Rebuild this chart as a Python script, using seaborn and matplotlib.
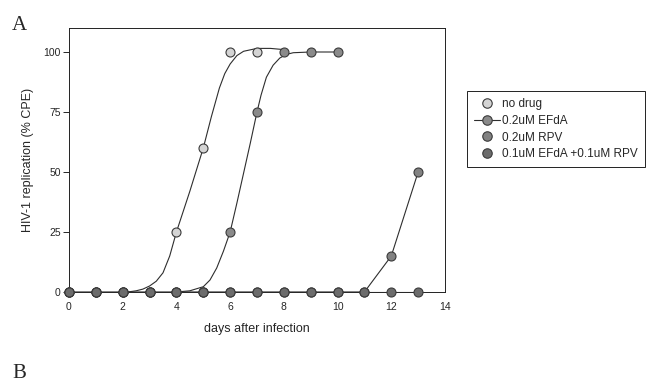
import numpy as np
import pandas as pd
import matplotlib
matplotlib.use("Agg")
import matplotlib.pyplot as plt
import seaborn as sns
from matplotlib.lines import Line2D

# ---- data ----
no_drug_days = [0, 1, 2, 3, 4, 5, 6, 7]
no_drug_cpe = [0, 0, 0, 0, 25, 60, 100, 100]
efda_days = [0, 1, 2, 3, 4, 5, 6, 7, 8, 9, 10]
efda_cpe = [0, 0, 0, 0, 0, 0, 25, 75, 100, 100, 100]
rpv_days = list(range(0, 14))
rpv_cpe = [0, 0, 0, 0, 0, 0, 0, 0, 0, 0, 0, 0, 15, 50]
combo_days = list(range(0, 14))
combo_cpe = [0] * 14

# fitted curves
fit_no_drug_x = [2.0, 2.25, 2.5, 2.75, 3.0, 3.25, 3.5, 3.75, 4.0, 4.5, 5.0,
                 5.3, 5.6, 5.8, 6.0, 6.25, 6.5, 7.0, 7.5, 8.0]
fit_no_drug_y = [0, 0.1, 0.5, 1.2, 2.5, 4.5, 8, 15, 25, 42, 60,
                 73, 85, 91, 95, 98.5, 100.3, 101.5, 101.5, 101]
fit_efda_x = [4.0, 4.5, 5.0, 5.25, 5.5, 5.75, 6.0, 6.25, 6.5, 6.75, 7.0,
              7.15, 7.35, 7.6, 7.85, 8.1, 8.35, 9.0, 10.0]
fit_efda_y = [0, 0.5, 2.2, 5, 10, 17, 25, 37, 49.5, 62, 75,
              82, 89.5, 94.5, 97.5, 99, 99.7, 100, 100]

labels = ["no drug", "0.2uM EFdA", "0.2uM RPV", "0.1uM EFdA +0.1uM RPV"]
colors = ["#d4d4d4", "#8a8a8a", "#828282", "#6c6c6c"]
edge = "#3a3a3a"

sns.set_style("ticks")
plt.rcParams['font.family'] = ['Liberation Sans', 'DejaVu Sans']

fig = plt.figure(figsize=(6.48, 3.87), dpi=100)
ax = fig.add_axes([69 / 648, 1 - 292 / 387, (445 - 69) / 648, (292 - 28) / 387])

line_kw = dict(color="#2e2e2e", linewidth=0.8, legend=False, sort=False)

# curves and connecting lines
sns.lineplot(x=fit_no_drug_x, y=fit_no_drug_y, ax=ax, **line_kw)
sns.lineplot(x=fit_efda_x, y=fit_efda_y, ax=ax, **line_kw)
sns.lineplot(x=rpv_days, y=rpv_cpe, ax=ax, **line_kw)
sns.lineplot(x=combo_days, y=combo_cpe, ax=ax, **line_kw)

# markers
series = [(no_drug_days, no_drug_cpe), (efda_days, efda_cpe),
          (rpv_days, rpv_cpe), (combo_days, combo_cpe)]
for (xs, ys), c in zip(series, colors):
    sns.scatterplot(x=xs, y=ys, ax=ax, s=42, color=c, edgecolor=edge,
                    linewidth=0.8, clip_on=False, zorder=3, legend=False)

ax.set_xlim(0, 14)
ax.set_ylim(0, 110)
ax.set_xticks(range(0, 15, 2))
ax.set_yticks([0, 25, 50, 75, 100])
ax.tick_params(axis="x", length=0, pad=7, labelsize=7.5)
ax.tick_params(axis="y", length=4.5, width=0.7, pad=1.5, labelsize=7.5)
for s in ax.spines.values():
    s.set_linewidth(0.7)
    s.set_color("#222222")

ax.set_xlabel("days after infection", fontsize=9, labelpad=8)
ax.set_ylabel("HIV-1 replication (% CPE)", fontsize=9, labelpad=7)

# legend
mk = dict(marker="o", markersize=6.8, markeredgecolor=edge, markeredgewidth=0.8)
handles = [
    Line2D([], [], linestyle="none", markerfacecolor=colors[0], **mk),
    Line2D([], [], color="#2e2e2e", linewidth=0.8, markerfacecolor=colors[1], **mk),
    Line2D([], [], linestyle="none", markerfacecolor=colors[2], **mk),
    Line2D([], [], linestyle="none", markerfacecolor=colors[3], **mk),
]
leg = fig.legend(handles, labels, loc="upper left",
                 bbox_to_anchor=(467 / 648, 1 - 91 / 387), borderaxespad=0,
                 fontsize=8.5, frameon=True, fancybox=False, framealpha=1,
                 edgecolor="#222222", handlelength=2.2, handletextpad=0.2,
                 labelspacing=0.4, borderpad=0.6)
leg.get_frame().set_linewidth(0.7)

# panel letters
fig.text(12 / 648, 1 - 26 / 387, "A", fontsize=15, family="Liberation Serif",
         va="center", ha="left")
fig.text(12 / 648, 1 - 373 / 387, "B", fontsize=15, family="Liberation Serif",
         va="center", ha="left")

fig.savefig("out.png", dpi=100)
